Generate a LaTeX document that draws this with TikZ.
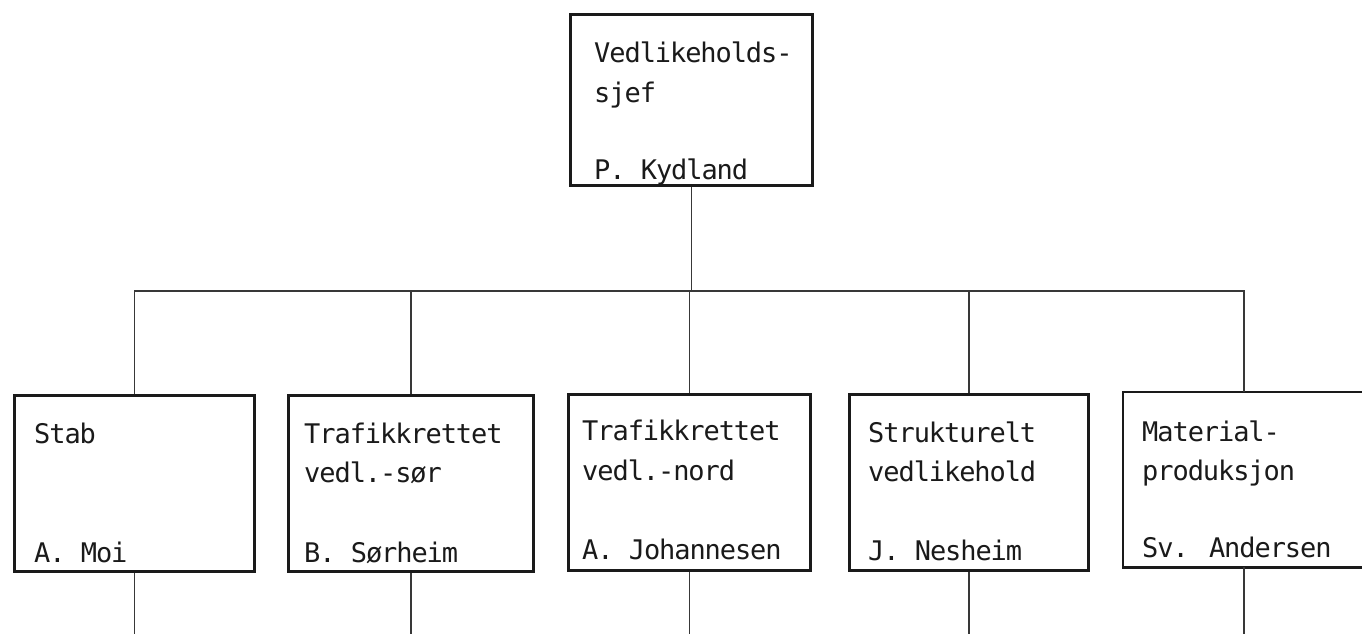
\documentclass[tikz,border=0pt]{standalone}
\usepackage{fontspec}
\setmainfont{DejaVu Sans Mono}[LetterSpace=-4]
\definecolor{ink}{HTML}{1A1A1A}
\definecolor{wire}{HTML}{383838}
\tikzset{
  unitbox/.style={draw=ink, line width=2.8pt, anchor=north west, inner sep=0pt},
  openbox/.style={anchor=north west, inner sep=0pt},
  boxline/.style={draw=ink, line width=2.8pt},
  conn/.style={draw=wire, line width=1.7pt},
  lbl/.style={anchor=base west, inner sep=0pt, text=ink, font=\fontsize{27}{39}\selectfont},
}
\begin{document}
\begin{tikzpicture}[x=1pt, y=-1pt]
\useasboundingbox[fill=white] (0,0) rectangle (1362,634);

% head of department
\node[unitbox, minimum width=242pt, minimum height=171pt] (top) at (569,13) {};
\node[lbl] (topa) at ([xshift=25pt,yshift=-50pt]top.north west) {Vedlikeholds-};
\node[lbl] (topb) at ([xshift=25pt,yshift=-89pt]top.north west) {sjef};
\node[lbl] (topn) at ([xshift=25pt,yshift=7pt]top.south west) {P. Kydland};

% departments
\node[unitbox, minimum width=240pt, minimum height=176pt] (b1) at (13,394) {};
\node[unitbox, minimum width=245pt, minimum height=176pt] (b2) at (287,394) {};
\node[unitbox, minimum width=242pt, minimum height=176pt] (b3) at (567,393) {};
\node[unitbox, minimum width=239pt, minimum height=176pt] (b4) at (848,393) {};
% the last unit runs past the right margin
\node[openbox, minimum width=260pt, minimum height=175pt] (b5) at (1123,392) {};
\draw[boxline] (b5.north east) -- (b5.north west) -- (b5.south west) -- (b5.south east);

\node[lbl] (b1a) at ([xshift=21pt,yshift=-49pt]b1.north west) {Stab};
\node[lbl] (b1n) at ([xshift=21pt,yshift=10pt]b1.south west) {A. Moi};

\node[lbl] (b2a) at ([xshift=17pt,yshift=-49pt]b2.north west) {Trafikkrettet};
\node[lbl] (b2b) at ([xshift=17pt,yshift=-88pt]b2.north west) {vedl.-sør};
\node[lbl] (b2n) at ([xshift=17pt,yshift=10pt]b2.south west) {B. Sørheim};

\node[lbl] (b3a) at ([xshift=15pt,yshift=-47pt]b3.north west) {Trafikkrettet};
\node[lbl] (b3b) at ([xshift=15pt,yshift=-87pt]b3.north west) {vedl.-nord};
\node[lbl] (b3n) at ([xshift=15pt,yshift=12pt]b3.south west) {A. Johannesen};

\node[lbl] (b4a) at ([xshift=20pt,yshift=-49pt]b4.north west) {Strukturelt};
\node[lbl] (b4b) at ([xshift=20pt,yshift=-88pt]b4.north west) {vedlikehold};
\node[lbl] (b4n) at ([xshift=20pt,yshift=11pt]b4.south west) {J. Nesheim};

\node[lbl] (b5a) at ([xshift=19pt,yshift=-49pt]b5.north west) {Material-};
\node[lbl] (b5b) at ([xshift=19pt,yshift=-88pt]b5.north west) {produksjon};
\node[lbl] (b5n) at ([xshift=19pt,yshift=10pt]b5.south west) {Sv. Andersen};

% reporting lines
\coordinate (bus) at (0,291);
\coordinate (floor) at (0,640);
\coordinate (drop5) at (1244,0);
\draw[conn] (top.south) -- (top.south |- bus);
\draw[conn] (b1.north) -- (b1.north |- bus) -- (drop5 |- bus) -- (drop5 |- b5.north);
\draw[conn] (b2.north) -- (b2.north |- bus);
\draw[conn] (b3.north) -- (b3.north |- bus);
\draw[conn] (b4.north) -- (b4.north |- bus);

% lines continuing downward
\foreach \b in {b1,b2,b3,b4}
  \draw[conn] (\b.south) -- (\b.south |- floor);
\draw[conn] (drop5 |- b5.south) -- (drop5 |- floor);
\end{tikzpicture}
\end{document}
